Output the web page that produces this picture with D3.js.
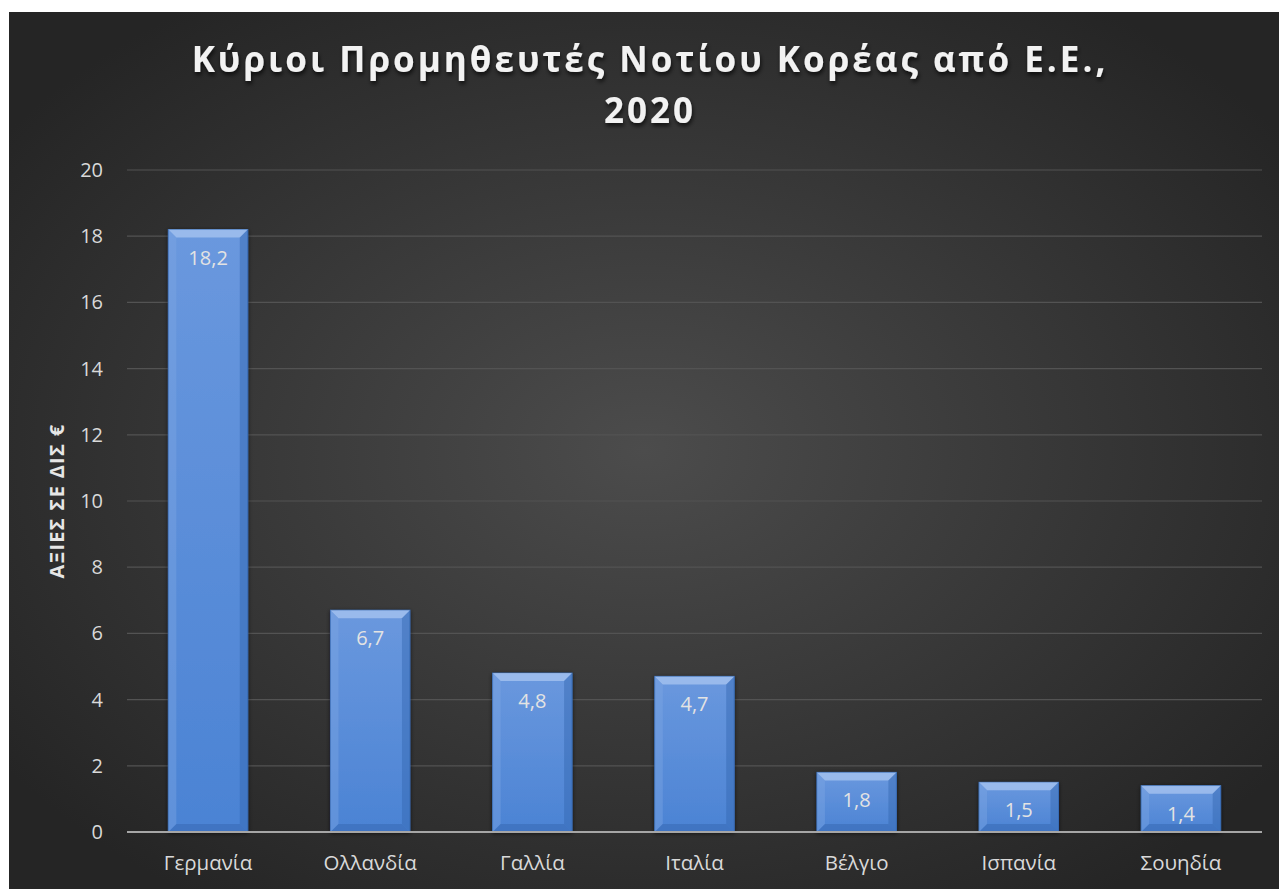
<!DOCTYPE html>
<html>
<head>
<meta charset="utf-8">
<script src="https://cdn.jsdelivr.net/npm/d3@7"></script>
<style>
  body { margin: 0; background: #fff; }
  svg { display: block; }
</style>
</head>
<body>
<svg id="canvas" width="1279" height="889"></svg>
<script>
const countries = ['Γερμανία', 'Ολλανδία', 'Γαλλία', 'Ιταλία', 'Βέλγιο', 'Ισπανία', 'Σουηδία'];
const values = [18.2, 6.7, 4.8, 4.7, 1.8, 1.5, 1.4];
const yTicks = [0, 2, 4, 6, 8, 10, 12, 14, 16, 18, 20];
const titleLines = ['Κύριοι Προμηθευτές Νοτίου Κορέας από Ε.Ε.,', '2020'];
const yTitle = 'ΑΞΙΕΣ ΣΕ ΔΙΣ €';

const svg = d3.select('#canvas');
const defs = svg.append('defs');

// background gradient
let bg = defs.append('radialGradient').attr('id', 'bg')
    .attr('cx', '50%').attr('cy', '50%').attr('r', '62%');
bg.append('stop').attr('offset', '0%').attr('stop-color', '#4c4c4c');
bg.append('stop').attr('offset', '100%').attr('stop-color', '#252525');

let barGrad = defs.append('linearGradient').attr('id', 'barGrad')
    .attr('x1', 0).attr('x2', 0).attr('y1', 0).attr('y2', 1);
barGrad.append('stop').attr('offset', '0%').attr('stop-color', '#6a98de');
barGrad.append('stop').attr('offset', '100%').attr('stop-color', '#4b83d4');

let shadow = defs.append('filter').attr('id', 'tshadow')
    .attr('x', '-5%').attr('y', '-20%').attr('width', '110%').attr('height', '150%');
shadow.append('feDropShadow').attr('dx', 1).attr('dy', 3).attr('stdDeviation', 2)
    .attr('flood-color', '#000').attr('flood-opacity', 0.7);

let barShadow = defs.append('filter').attr('id', 'bshadow')
    .attr('x', '-20%').attr('y', '-10%').attr('width', '140%').attr('height', '120%');
barShadow.append('feDropShadow').attr('dx', 0).attr('dy', 1).attr('stdDeviation', 2)
    .attr('flood-color', '#000').attr('flood-opacity', 0.6);

svg.append('rect')
    .attr('x', 9).attr('y', 12)
    .attr('width', 1270).attr('height', 877)
    .attr('fill', 'url(#bg)');

const plotLeft = 127, plotRight = 1262, plotTop = 170, plotBottom = 832;

const x = d3.scaleBand().domain(countries).range([plotLeft, plotRight]).paddingInner(0.51).paddingOuter(0.255);
const y = d3.scaleLinear().domain([0, 20]).range([plotBottom, plotTop]);

// gridlines
svg.append('g').selectAll('line')
    .data(yTicks.filter(t => t > 0))
    .enter().append('line')
    .attr('x1', plotLeft).attr('x2', plotRight)
    .attr('y1', d => y(d)).attr('y2', d => y(d))
    .attr('stroke', '#535353').attr('stroke-width', 1.2);

// y tick labels
svg.append('g').selectAll('text')
    .data(yTicks)
    .enter().append('text')
    .attr('x', 103).attr('y', d => y(d))
    .attr('dy', '0.35em')
    .attr('text-anchor', 'end')
    .attr('fill', '#d9d9d9')
    .attr('font-family', 'Open Sans, sans-serif')
    .attr('font-size', 20)
    .text(d => d);

// bars
const bev = 8;
let bars = svg.append('g').selectAll('g')
    .data(values)
    .enter().append('g');

bars.append('rect')
    .attr('x', (d, i) => x(countries[i]))
    .attr('y', d => y(d))
    .attr('width', x.bandwidth())
    .attr('height', d => y(0) - y(d))
    .attr('fill', 'url(#barGrad)')
    .attr('stroke', '#3b6fb8').attr('stroke-width', 1)
    .attr('filter', 'url(#bshadow)');

const poly = (d, i, kind) => {
    let x0 = x(countries[i]), x1 = x0 + x.bandwidth();
    let y0 = y(d), y1 = y(0);
    if (kind === 'top') return [[x0, y0], [x1, y0], [x1 - bev, y0 + bev], [x0 + bev, y0 + bev]];
    if (kind === 'left') return [[x0, y0], [x0 + bev, y0 + bev], [x0 + bev, y1 - bev], [x0, y1]];
    if (kind === 'right') return [[x1, y0], [x1, y1], [x1 - bev, y1 - bev], [x1 - bev, y0 + bev]];
    return [[x0, y1], [x0 + bev, y1 - bev], [x1 - bev, y1 - bev], [x1, y1]];
};
const bevels = [['top', '#a9c6f0', 0.75], ['left', '#7fa8e4', 0.4], ['right', '#3467b0', 0.45], ['bottom', '#3566b0', 0.5]];
bevels.forEach(([kind, col, op]) => {
    bars.append('polygon')
        .attr('points', (d, i) => poly(d, i, kind).map(p => p.join(',')).join(' '))
        .attr('fill', col).attr('opacity', op);
});

bars.append('text')
    .attr('x', (d, i) => x(countries[i]) + x.bandwidth() / 2)
    .attr('y', d => y(d) + 35)
    .attr('text-anchor', 'middle')
    .attr('fill', '#e3e3e3')
    .attr('font-family', 'Open Sans, sans-serif')
    .attr('font-size', 20)
    .text(d => d.toString().replace('.', ','));

// x axis line
svg.append('line')
    .attr('x1', plotLeft).attr('x2', plotRight)
    .attr('y1', y(0)).attr('y2', y(0))
    .attr('stroke', '#a6a6a6').attr('stroke-width', 2);

// category labels
svg.append('g').selectAll('text')
    .data(countries)
    .enter().append('text')
    .attr('x', d => x(d) + x.bandwidth() / 2)
    .attr('y', 870)
    .attr('text-anchor', 'middle')
    .attr('fill', '#d9d9d9')
    .attr('font-family', 'Open Sans, sans-serif')
    .attr('font-size', 20.5)
    .text(d => d);

// y axis title
svg.append('text')
    .attr('transform', 'translate(64,' + ((plotTop + plotBottom) / 2) + ') rotate(-90)')
    .attr('text-anchor', 'middle')
    .attr('fill', '#e6e6e6')
    .attr('font-family', 'Open Sans, sans-serif')
    .attr('font-weight', 'bold')
    .attr('font-size', 20)
    .attr('letter-spacing', 1.3)
    .text(yTitle);

// title
svg.append('g').selectAll('text')
    .data(titleLines)
    .enter().append('text')
    .attr('x', 650)
    .attr('y', (d, i) => 72 + i * 51)
    .attr('text-anchor', 'middle')
    .attr('fill', '#f2f2f2')
    .attr('font-family', 'Open Sans, sans-serif')
    .attr('font-weight', 'bold')
    .attr('font-size', 35)
    .attr('letter-spacing', 3)
    .attr('filter', 'url(#tshadow)')
    .text(d => d);
</script>
</body>
</html>
